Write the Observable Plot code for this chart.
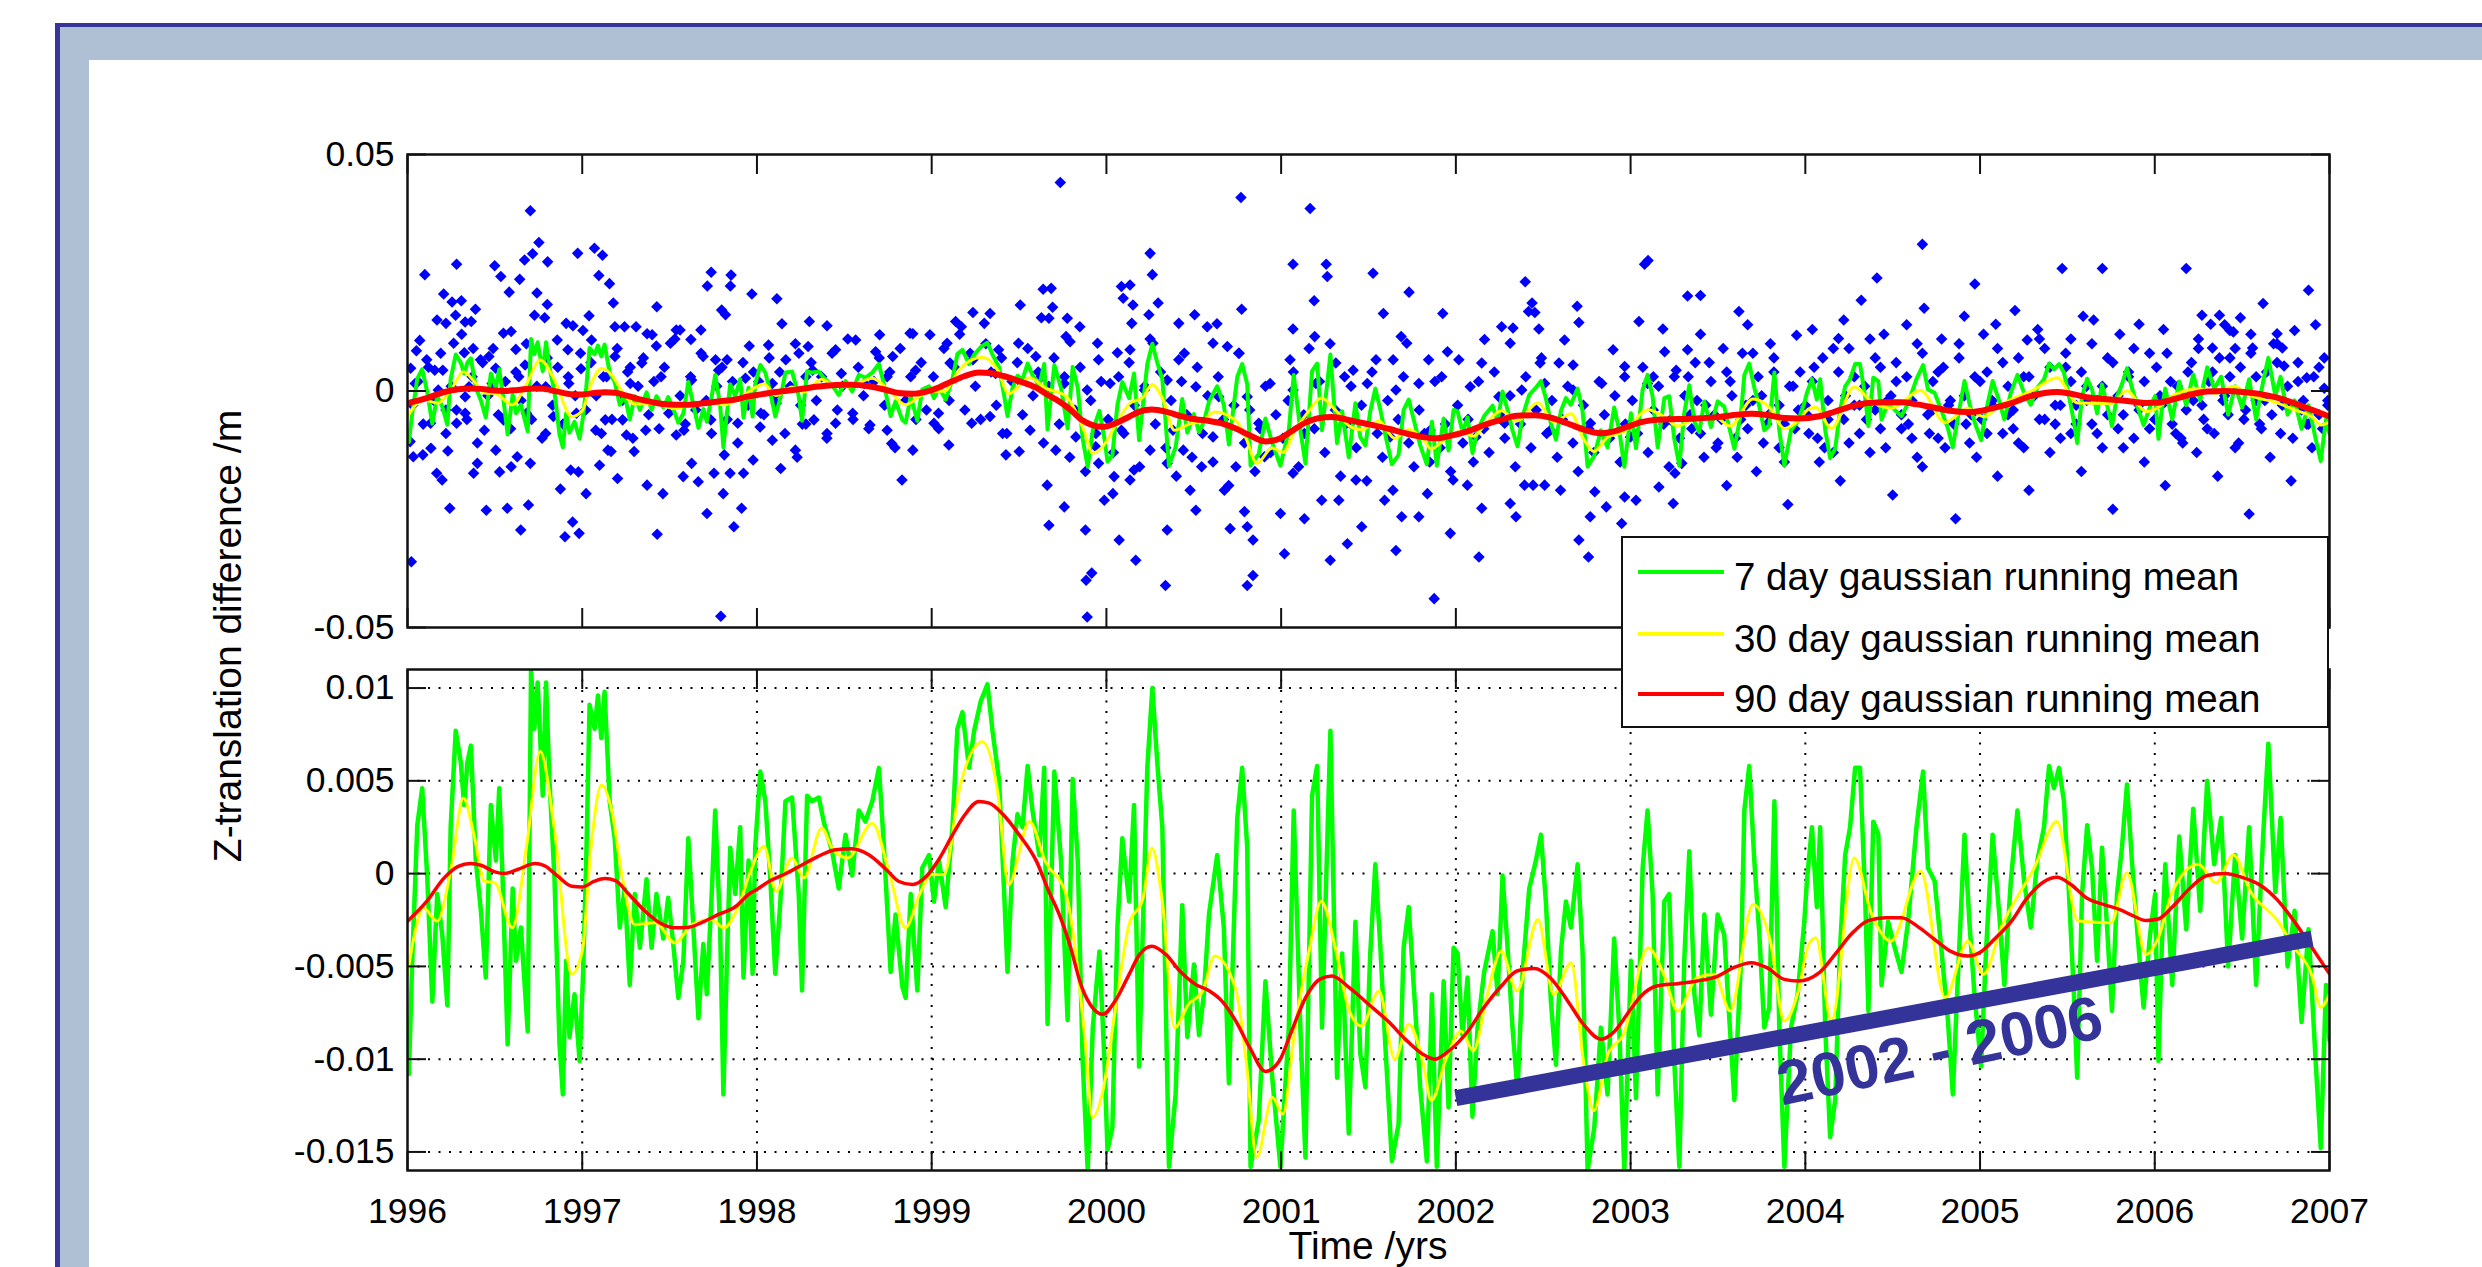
<!DOCTYPE html>
<html>
<head>
<meta charset="utf-8">
<script src="https://cdn.jsdelivr.net/npm/d3@7"></script>
<script src="https://cdn.jsdelivr.net/npm/@observablehq/plot@0.6"></script>
<style>
html,body{margin:0;padding:0;background:#fff;width:2482px;height:1267px;overflow:hidden;font-family:"Liberation Sans",Arial,Helvetica,sans-serif;}
#outer{position:absolute;left:55px;top:23px;width:2600px;height:1400px;background:#b0c0d4;border-left:5px solid #35359a;border-top:4px solid #35359a;}
#inner{position:absolute;left:89px;top:60px;width:2600px;height:1400px;background:#fff;}
.plotbox{position:absolute;left:0;}
#legend{position:absolute;left:1621px;top:536px;width:704px;height:188px;background:#fff;border:2px solid #111;}
.lrow{position:absolute;left:0;height:40px;}
.sw{position:absolute;left:15px;width:86px;height:4px;}
.lt{position:absolute;left:111px;font-size:38.5px;line-height:40px;white-space:nowrap;color:#000;}
#ylabel{position:absolute;left:228px;top:636px;transform:translate(-50%,-50%) rotate(-90deg);font-size:39px;white-space:nowrap;color:#000;}
#xlabel{position:absolute;left:1368px;top:1226px;transform:translateX(-50%);font-size:39px;line-height:39px;white-space:nowrap;color:#000;}
</style>
</head>
<body>
<div id="outer"></div>
<div id="inner"></div>
<div id="top" class="plotbox" style="top:0px"></div>
<div id="bottom" class="plotbox" style="top:640px"></div>
<div id="ylabel">Z-translation difference /m</div>
<div id="xlabel">Time /yrs</div>
<div id="legend"></div>
<script>
// ---------------- data (y in millimetres) ----------------
const years = [1996,1997,1998,1999,2000,2001,2002,2003,2004,2005,2006,2007];
const gridYears = [1997,1998,1999,2000,2001,2002,2003,2004,2005,2006];
const topYTicks = [-0.05, 0, 0.05];
const bottomYTicks = [-0.015, -0.01, -0.005, 0, 0.005, 0.01];
const seriesNames = ["7 day gaussian running mean","30 day gaussian running mean","90 day gaussian running mean"];
const seriesColors = ["#00ff00","#ffff00","#ff0000"];
const trendT = [2002.0, 2006.9];
const trendV = [-12.1, -3.5];
const trendLabel = "2002 - 2006";
const trendLabelAt = [2004.77, -9.6];

const red90 = [[1996.00,-2.56],[1996.11,-1.49],[1996.21,-0.23],[1996.29,0.39],[1996.36,0.54],[1996.42,0.45],[1996.50,0.09],[1996.55,0.0],[1996.63,0.22],[1996.73,0.54],[1996.78,0.45],[1996.86,-0.14],[1996.94,-0.68],[1997.00,-0.72],[1997.07,-0.41],[1997.13,-0.27],[1997.19,-0.38],[1997.26,-1.04],[1997.36,-2.03],[1997.45,-2.69],[1997.53,-2.92],[1997.61,-2.89],[1997.68,-2.65],[1997.78,-2.20],[1997.88,-1.76],[1997.95,-1.13],[1998.00,-0.85],[1998.07,-0.41],[1998.16,-0.02],[1998.26,0.48],[1998.35,0.93],[1998.45,1.29],[1998.54,1.34],[1998.64,1.02],[1998.74,0.22],[1998.81,-0.41],[1998.89,-0.59],[1998.97,-0.14],[1999.04,0.75],[1999.12,2.10],[1999.19,3.17],[1999.27,3.89],[1999.33,3.80],[1999.41,3.17],[1999.50,2.10],[1999.60,0.66],[1999.67,-0.95],[1999.73,-2.20],[1999.79,-3.82],[1999.86,-6.15],[1999.92,-7.22],[1999.98,-7.58],[2000.05,-6.86],[2000.13,-5.43],[2000.19,-4.35],[2000.26,-3.91],[2000.34,-4.35],[2000.42,-5.25],[2000.51,-5.97],[2000.59,-6.33],[2000.66,-6.86],[2000.74,-7.94],[2000.82,-9.37],[2000.91,-10.66],[2000.99,-10.09],[2001.06,-8.48],[2001.14,-6.68],[2001.22,-5.70],[2001.29,-5.52],[2001.39,-6.15],[2001.50,-7.04],[2001.62,-8.03],[2001.71,-8.92],[2001.81,-9.73],[2001.88,-10.0],[2001.96,-9.55],[2002.07,-8.48],[2002.16,-7.22],[2002.26,-6.06],[2002.35,-5.25],[2002.45,-5.11],[2002.54,-5.61],[2002.64,-6.86],[2002.73,-8.12],[2002.83,-8.92],[2002.91,-8.48],[2002.98,-7.58],[2003.06,-6.59],[2003.15,-6.06],[2003.27,-5.93],[2003.38,-5.79],[2003.50,-5.52],[2003.59,-5.07],[2003.69,-4.80],[2003.78,-5.07],[2003.88,-5.70],[2003.96,-5.79],[2004.08,-5.34],[2004.17,-4.35],[2004.27,-3.19],[2004.36,-2.53],[2004.46,-2.38],[2004.55,-2.38],[2004.64,-2.83],[2004.74,-3.55],[2004.83,-4.18],[2004.93,-4.44],[2005.01,-4.18],[2005.08,-3.55],[2005.18,-2.56],[2005.27,-1.31],[2005.37,-0.41],[2005.44,-0.20],[2005.52,-0.59],[2005.61,-1.31],[2005.71,-1.67],[2005.80,-1.94],[2005.88,-2.29],[2005.95,-2.53],[2006.02,-2.45],[2006.10,-1.8],[2006.20,-0.8],[2006.30,-0.1],[2006.40,0.0],[2006.50,-0.2],[2006.60,-0.6],[2006.70,-1.4],[2006.80,-2.6],[2006.90,-4.0],[2007.00,-5.4]];

const yellow30 = [[1996.00,-5.43],[1996.04,-3.28],[1996.09,-1.85],[1996.17,-2.56],[1996.25,0.30],[1996.32,4.07],[1996.38,2.10],[1996.44,-0.41],[1996.50,-0.50],[1996.60,-2.92],[1996.68,1.38],[1996.76,6.58],[1996.84,2.46],[1996.94,-5.43],[1997.00,-4.18],[1997.05,1.38],[1997.11,4.78],[1997.17,3.35],[1997.23,-0.23],[1997.30,-2.74],[1997.42,-2.65],[1997.53,-3.73],[1997.63,-2.74],[1997.74,-2.47],[1997.81,-2.92],[1997.89,-1.85],[1997.97,0.30],[1998.04,1.47],[1998.11,-0.95],[1998.20,0.84],[1998.27,-0.23],[1998.37,2.46],[1998.43,1.38],[1998.52,0.84],[1998.66,2.72],[1998.76,-0.05],[1998.85,-2.92],[1998.93,-1.13],[1999.00,-0.05],[1999.07,-0.05],[1999.16,4.61],[1999.29,7.11],[1999.38,4.25],[1999.44,-0.59],[1999.56,2.81],[1999.65,0.66],[1999.77,-1.13],[1999.83,-4.71],[1999.88,-9.19],[1999.92,-13.14],[1999.98,-11.70],[2000.05,-7.4],[2000.13,-2.74],[2000.21,-1.31],[2000.26,1.38],[2000.32,-1.49],[2000.39,-8.30],[2000.47,-7.04],[2000.55,-6.33],[2000.62,-4.44],[2000.74,-6.24],[2000.80,-10.09],[2000.86,-15.29],[2000.95,-12.06],[2001.01,-12.96],[2001.08,-8.30],[2001.16,-4.18],[2001.23,-1.49],[2001.31,-3.99],[2001.39,-7.40],[2001.46,-8.21],[2001.56,-6.33],[2001.65,-10.0],[2001.73,-8.12],[2001.81,-10.09],[2001.86,-12.24],[2001.94,-10.09],[2002.03,-8.48],[2002.10,-9.55],[2002.18,-6.51],[2002.26,-4.18],[2002.35,-6.33],[2002.47,-2.47],[2002.56,-6.51],[2002.66,-4.80],[2002.73,-10.09],[2002.79,-12.78],[2002.87,-9.73],[2002.96,-8.66],[2003.10,-3.99],[2003.19,-5.43],[2003.27,-7.40],[2003.38,-5.61],[2003.48,-5.43],[2003.57,-7.40],[2003.70,-1.67],[2003.80,-3.64],[2003.88,-7.94],[2003.96,-6.33],[2004.02,-3.8],[2004.06,-3.46],[2004.15,-7.94],[2004.28,0.84],[2004.38,-2.20],[2004.49,-3.64],[2004.66,0.13],[2004.80,-6.68],[2004.93,-3.64],[2005.02,-5.43],[2005.12,-2.92],[2005.31,0.30],[2005.44,2.81],[2005.56,-2.56],[2005.75,-2.65],[2005.84,0.04],[2005.95,-4.35],[2006.02,-3.46],[2006.10,-1.0],[2006.25,0.5],[2006.35,-0.5],[2006.45,1.0],[2006.55,-1.0],[2006.70,-2.5],[2006.80,-4.0],[2006.90,-5.5],[2006.95,-7.2],[2007.00,-6.5]];

const green7 = [[1996.008,-10.8],[1996.027,-4.7],[1996.056,2.6],[1996.084,4.6],[1996.113,-0.2],[1996.142,-6.9],[1996.170,-1.1],[1996.199,-3.3],[1996.228,-7.1],[1996.247,2.5],[1996.276,7.7],[1996.305,6.0],[1996.324,3.7],[1996.343,6.0],[1996.363,6.9],[1996.391,0.7],[1996.420,-2.0],[1996.448,-5.6],[1996.477,3.7],[1996.506,0.7],[1996.525,4.6],[1996.544,-0.2],[1996.573,-9.2],[1996.602,-0.8],[1996.621,-4.7],[1996.649,-2.9],[1996.688,-8.5],[1996.707,11.0],[1996.726,7.8],[1996.745,10.3],[1996.774,4.2],[1996.793,10.3],[1996.812,5.1],[1996.841,-0.2],[1996.870,-9.2],[1996.889,-11.9],[1996.908,-4.7],[1996.927,-8.8],[1996.956,-6.5],[1996.985,-10.1],[1997.004,-5.6],[1997.023,0.7],[1997.042,9.1],[1997.071,7.8],[1997.090,9.6],[1997.109,7.3],[1997.128,9.8],[1997.157,3.9],[1997.186,1.9],[1997.215,-2.9],[1997.243,-0.8],[1997.272,-6.0],[1997.301,-1.1],[1997.330,-4.0],[1997.368,-0.3],[1997.397,-4.0],[1997.425,-1.1],[1997.464,-3.5],[1997.492,-1.3],[1997.521,-3.8],[1997.550,-6.7],[1997.579,-4.7],[1997.607,1.9],[1997.636,-2.9],[1997.665,-7.8],[1997.693,-3.8],[1997.713,-6.5],[1997.741,-1.1],[1997.761,3.4],[1997.789,-2.9],[1997.808,-11.9],[1997.828,-4.7],[1997.847,1.4],[1997.876,-1.1],[1997.904,2.5],[1997.923,-5.6],[1997.952,0.7],[1997.975,-5.4],[1997.990,1.4],[1998.019,5.5],[1998.048,3.9],[1998.076,-0.2],[1998.105,-5.4],[1998.134,-1.5],[1998.163,3.9],[1998.201,4.1],[1998.239,-1.1],[1998.258,-6.3],[1998.287,4.2],[1998.315,3.9],[1998.354,4.1],[1998.382,2.8],[1998.430,1.2],[1998.468,-0.8],[1998.507,2.1],[1998.545,-0.1],[1998.583,3.4],[1998.621,2.8],[1998.660,3.9],[1998.698,5.7],[1998.727,1.4],[1998.765,-5.3],[1998.793,-2.2],[1998.832,-6.1],[1998.851,-6.7],[1998.880,-1.1],[1998.918,-6.3],[1998.946,0.3],[1998.985,1.0],[1999.013,-1.5],[1999.042,0.7],[1999.080,-1.8],[1999.119,2.5],[1999.147,7.8],[1999.176,8.7],[1999.214,5.7],[1999.243,7.7],[1999.281,9.3],[1999.319,10.2],[1999.348,7.7],[1999.386,5.0],[1999.415,-1.1],[1999.434,-5.3],[1999.463,0.7],[1999.491,3.2],[1999.520,2.5],[1999.549,5.8],[1999.577,3.4],[1999.616,1.0],[1999.644,5.7],[1999.663,-8.1],[1999.702,5.5],[1999.740,0.7],[1999.778,-7.9],[1999.807,5.1],[1999.836,0.7],[1999.864,-10.1],[1999.893,-16.0],[1999.922,-8.3],[1999.960,-4.2],[1999.989,-10.1],[2000.006,-14.9],[2000.034,-13.7],[2000.063,-2.9],[2000.091,1.9],[2000.130,-1.5],[2000.158,3.7],[2000.187,-10.4],[2000.234,5.7],[2000.263,10.0],[2000.291,6.0],[2000.320,2.5],[2000.358,-15.8],[2000.396,-11.9],[2000.434,-1.7],[2000.463,-8.8],[2000.501,-4.9],[2000.530,-8.7],[2000.558,-6.5],[2000.587,-2.2],[2000.634,1.0],[2000.672,-2.9],[2000.701,-11.3],[2000.749,3.0],[2000.777,5.7],[2000.806,1.4],[2000.825,-15.8],[2000.872,-13.3],[2000.910,-5.8],[2000.949,-11.0],[2000.996,-15.8],[2001.044,-8.3],[2001.072,3.4],[2001.110,-8.3],[2001.139,-15.3],[2001.177,4.2],[2001.206,5.8],[2001.234,-8.3],[2001.282,7.7],[2001.320,-11.0],[2001.349,-4.3],[2001.387,-14.0],[2001.425,-2.6],[2001.453,-9.7],[2001.482,-11.5],[2001.510,-4.3],[2001.539,0.5],[2001.568,-4.0],[2001.596,-9.2],[2001.634,-15.5],[2001.672,-13.5],[2001.701,-4.0],[2001.730,-1.8],[2001.768,-7.4],[2001.796,-11.5],[2001.834,-15.5],[2001.863,-6.5],[2001.891,-15.8],[2001.930,-5.8],[2001.958,-12.6],[2001.987,-4.0],[2002.010,-4.3],[2002.038,-8.7],[2002.067,-5.6],[2002.095,-13.1],[2002.124,-8.3],[2002.162,-5.3],[2002.210,-3.1],[2002.239,-6.5],[2002.267,-0.1],[2002.296,-4.0],[2002.324,-8.3],[2002.353,-11.7],[2002.382,-5.3],[2002.420,-0.8],[2002.458,0.7],[2002.487,2.1],[2002.515,-1.5],[2002.544,-6.9],[2002.573,-10.3],[2002.601,-4.2],[2002.630,-1.5],[2002.658,-2.9],[2002.697,0.5],[2002.725,-4.2],[2002.754,-16.0],[2002.792,-13.7],[2002.830,-8.3],[2002.868,-11.9],[2002.906,-3.5],[2002.935,-8.3],[2002.964,-16.0],[2003.002,-4.7],[2003.031,-12.1],[2003.069,0.3],[2003.097,3.4],[2003.126,-1.1],[2003.155,-11.9],[2003.193,-1.5],[2003.221,-1.1],[2003.250,-10.1],[2003.279,-15.8],[2003.307,-4.7],[2003.336,1.2],[2003.365,-6.5],[2003.393,-8.7],[2003.422,-2.2],[2003.460,-7.6],[2003.498,-2.2],[2003.536,-3.3],[2003.565,-7.8],[2003.594,-12.2],[2003.632,-4.7],[2003.651,3.4],[2003.679,5.8],[2003.708,0.7],[2003.737,-3.3],[2003.765,-8.3],[2003.794,-7.2],[2003.823,3.9],[2003.851,-8.3],[2003.880,-15.8],[2003.918,-8.3],[2003.956,-6.5],[2003.994,-2.6],[2004.009,-0.4],[2004.038,2.5],[2004.066,-1.8],[2004.085,2.5],[2004.114,-8.3],[2004.142,-14.2],[2004.171,-12.2],[2004.199,-4.0],[2004.228,1.0],[2004.256,2.5],[2004.285,5.7],[2004.313,5.7],[2004.342,-1.1],[2004.361,-7.4],[2004.389,2.8],[2004.418,2.1],[2004.436,-6.0],[2004.474,-2.6],[2004.512,-4.0],[2004.550,-5.3],[2004.588,-2.6],[2004.636,2.5],[2004.674,5.5],[2004.702,0.3],[2004.740,-0.4],[2004.778,-4.0],[2004.816,-7.9],[2004.844,-11.9],[2004.873,-5.6],[2004.911,2.1],[2004.939,-2.6],[2004.968,-6.5],[2005.006,-10.4],[2005.034,-4.2],[2005.072,2.1],[2005.110,-2.2],[2005.139,-6.0],[2005.176,-0.4],[2005.214,3.4],[2005.252,-0.4],[2005.290,-2.9],[2005.328,0.7],[2005.366,2.5],[2005.395,5.8],[2005.423,4.6],[2005.452,5.7],[2005.480,3.9],[2005.509,-1.1],[2005.537,-6.5],[2005.556,-11.0],[2005.584,-1.1],[2005.613,2.6],[2005.641,0.3],[2005.670,-4.7],[2005.698,1.4],[2005.727,-2.9],[2005.755,-7.4],[2005.784,-1.1],[2005.812,1.4],[2005.841,4.8],[2005.869,0.7],[2005.898,-2.9],[2005.936,-7.2],[2005.973,-3.3],[2006.002,-1.1],[2006.021,-10.1],[2006.04,-4.0],[2006.06,0.5],[2006.10,-6.0],[2006.14,2.0],[2006.18,-3.0],[2006.22,3.5],[2006.26,-2.0],[2006.30,5.0],[2006.34,0.5],[2006.38,3.0],[2006.42,-5.0],[2006.46,1.0],[2006.50,-3.5],[2006.54,2.5],[2006.58,-6.0],[2006.62,2.0],[2006.65,7.0],[2006.69,-1.0],[2006.72,3.0],[2006.76,-5.0],[2006.80,-2.0],[2006.84,-8.0],[2006.88,-3.0],[2006.92,-10.0],[2006.95,-14.8],[2006.98,-6.0],[2007.00,-9.0]];

// individual daily translation differences (outliers + spread)
const blueDots = [
[1996.099,24.6],[1996.281,26.8],[1996.499,26.5],[1996.703,38.1],[1996.752,31.4],[1996.716,29.0],[1996.670,27.7],[1996.802,27.3],[1996.974,29.1],[1997.070,30.2],[1997.116,28.7],[1997.095,24.4],[1997.156,22.7],[1996.534,24.2],[1996.642,23.6],[1996.582,20.9],[1996.207,20.5],[1996.255,18.8],[1996.308,19.1],[1996.389,17.3],[1996.169,15.0],[1996.220,14.3],[1996.275,16.0],[1996.330,14.6],[1996.365,14.7],[1996.741,20.7],[1996.800,18.3],[1996.727,16.0],[1996.785,15.5],[1996.908,14.3],[1996.947,13.8],[1997.004,12.8],[1997.039,15.9],[1997.178,18.6],[1997.187,13.6],[1997.242,13.6],[1997.308,13.6],[1997.427,17.8],[1997.371,12.1],[1997.400,11.9],[1997.538,12.9],[1997.560,12.9],[1997.679,12.9],[1997.738,25.1],[1997.716,22.2],[1997.852,24.5],[1997.848,22.2],[1997.798,17.1],[1997.820,16.1],[1997.971,20.5],[1998.114,19.5],[1998.143,14.2],
[1996.018,4.8],[1996.070,10.7],[1996.051,8.5],[1996.110,6.6],[1996.156,4.4],[1996.202,4.4],[1996.264,10.1],[1996.325,8.1],[1996.376,9.0],[1996.418,6.6],[1996.466,7.3],[1996.505,4.8],[1996.549,12.2],[1996.593,12.6],[1996.620,8.8],[1996.673,5.5],[1996.857,10.8],[1996.918,8.7],[1996.993,4.7],[1997.053,10.8],[1997.187,7.3],[1997.275,5.0],[1997.341,5.9],[1997.424,9.5],[1997.505,10.1],[1997.622,10.9],[1997.692,7.3],[1997.763,6.6],[1997.829,6.6],[1997.956,9.5],[1998.066,9.7],[1998.165,6.6],
[1996.015,-10.7],[1996.033,-13.9],[1996.088,-13.5],[1996.134,-12.1],[1996.167,-17.4],[1996.198,-18.8],[1996.242,-24.8],[1996.231,-12.7],[1996.281,-6.8],[1996.330,-4.7],[1996.378,-17.4],[1996.400,-15.3],[1996.451,-25.2],[1996.505,-12.5],[1996.527,-17.1],[1996.571,-24.8],[1996.593,-16.0],[1996.628,-13.9],[1996.648,-29.4],[1996.692,-24.1],[1996.703,-15.3],[1996.791,-9.0],[1996.875,-20.7],[1996.901,-30.8],[1996.945,-27.7],[1996.982,-30.1],[1996.934,-16.7],[1996.978,-17.1],[1997.022,-21.7],[1997.099,-15.7],[1997.132,-6.1],[1997.147,-12.5],[1997.165,-12.8],[1997.202,-18.5],[1997.253,-9.3],[1997.297,-12.8],[1997.371,-19.9],[1997.429,-30.3],[1997.462,-21.7],[1997.538,-9.3],[1997.578,-18.1],[1997.626,-15.3],[1997.664,-19.2],[1997.714,-25.9],[1997.754,-17.4],[1997.807,-21.7],[1997.813,-13.5],[1997.868,-28.7],[1997.912,-24.8],[1997.846,-17.4],[1997.923,-17.4],[1997.978,-14.6],[1998.018,-7.6],[1998.088,-10.4],[1998.136,-16.4],[1998.220,-12.5],[1996.022,-36.1],[1997.793,-47.6],
[1996.132,-6.8],[1996.220,-4.0],[1996.330,-1.2],[1996.440,-8.3],[1996.549,-6.1],[1996.681,-4.7],[1996.835,-5.4],[1996.967,-4.7],[1997.077,-8.3],[1997.231,-6.1],[1997.363,-8.3],[1997.495,-4.7],[1997.582,-8.3],[1997.736,-6.1],[1997.890,-6.8],[1998.022,-4.7],[1998.110,-2.6],
[1996.044,1.6],[1996.176,0.2],[1996.352,0.9],[1996.484,1.6],[1996.637,3.0],[1996.791,0.9],[1996.923,1.6],[1997.121,3.0],[1997.275,1.6],[1997.451,3.0],[1997.626,2.3],[1997.780,4.4],[1997.934,2.7],[1998.088,1.6],
[1998.24,8.0],[1998.26,-7.0],[1998.28,3.0],[1998.23,-14.0],
[1999.736,44.1],[2000.770,40.9],[2001.166,38.6],[2000.250,29.1],[2000.263,24.6],[2001.068,26.8],[2001.258,26.8],[2001.264,24.2],[2001.526,24.9],[2001.732,20.9],[2002.397,23.1],[2003.080,26.8],[2003.326,20.1],[1999.638,21.5],[1999.684,21.7],[2000.086,22.1],[2000.135,22.4],[2000.096,19.6],[2000.152,18.2],[2000.296,18.6],[2000.243,16.1],[2000.774,17.3],[2001.189,19.1],[1999.507,18.2],[1999.692,17.7],[1999.776,15.4],[1999.848,13.6],[1999.137,14.7],[1999.236,16.6],[1999.334,16.4],[1998.300,14.7],[1998.401,13.8],[1998.892,12.1],[1998.990,11.9],[1998.702,11.9],[2000.145,14.3],[2000.414,14.3],[2000.505,16.1],[2000.577,13.6],[2000.633,14.2],[2001.585,16.4],[2001.925,16.4],[2002.262,13.6],[2002.327,13.3],[2002.436,18.6],[2002.452,16.6],[2002.475,13.1],[2002.622,10.8],[2002.694,17.9],[2002.704,14.5],[2003.048,14.7],[2003.185,13.1],[2002.416,16.8],[2002.164,10.9],[2001.687,11.5],[2001.719,10.1],[2001.068,13.1],[2001.192,11.5],
[2000.692,9.4],[2000.610,10.1],[2000.446,8.0],[2000.414,6.6],[2000.135,8.7],[2000.063,8.1],[1999.949,10.1],[1999.792,10.4],[1999.769,11.5],[1999.671,15.4],[1999.628,15.5],[1999.955,6.6],[2000.266,10.1],[2000.757,8.0],[2001.051,6.6],[2001.313,5.9],[2001.412,4.4],[2001.543,6.6],[2001.641,6.6],[2001.844,6.6],[2001.952,8.3],[2002.017,6.6],[2002.148,5.9],[2002.311,10.1],[2002.482,5.9],[2002.590,5.9],[2002.671,5.5],[2002.900,8.7],[2002.966,5.2],[2003.130,3.0],[2003.195,8.3],[2003.326,8.7],[1998.293,9.4],[1998.450,8.7],[1998.565,10.8],[1998.679,8.3],[1998.777,7.3],[1998.876,12.2],[1999.088,10.1],[1999.170,13.6],[1999.301,14.3],[1999.383,8.7],[1999.497,10.1],[1999.596,7.3],
[1998.319,4.4],[1998.483,3.7],[1998.614,1.6],[1998.745,3.0],[1998.908,4.4],[1999.105,5.9],[1999.236,6.6],[1999.366,3.7],[1999.497,2.3],[1999.628,3.0],[1999.759,1.6],[1999.890,0.2],[2000.021,1.6],[2000.217,0.2],[2000.348,2.3],[2000.512,0.9],[2000.643,-1.2],[2000.806,-1.2],[2000.937,1.6],[2001.068,0.2],[2001.199,1.6],[2001.363,3.0],[2001.493,1.6],[2001.657,0.2],[2001.788,1.6],[2001.919,3.0],[2002.082,0.9],[2002.246,-1.2],[2002.377,0.2],[2002.508,1.6],[2002.671,0.2],[2002.835,1.6],[2002.966,3.0],[2003.097,1.6],[2003.261,4.4],
[1998.326,-6.1],[1998.401,-9.0],[1998.548,-4.7],[1998.647,-7.2],[1998.771,-11.1],[1998.830,-18.8],[1998.892,-12.5],[1999.013,-6.8],[1999.098,-11.4],[1999.229,-6.8],[1999.406,-9.0],[1999.425,-13.5],[1999.501,-12.8],[1999.661,-19.9],[1999.710,-12.5],[1999.759,-24.5],[1999.671,-28.4],[1999.880,-29.4],[1999.884,-40.0],[1999.916,-38.5],[1999.890,-47.8],[1999.988,-23.1],[2000.037,-21.7],[2000.073,-31.5],[2000.168,-35.8],[2000.158,-16.7],[2000.044,-18.1],[1999.955,-15.3],[1999.939,-11.8],[2000.135,-18.8],[2000.338,-41.1],[2000.348,-29.4],[2000.348,-15.3],[2000.250,-12.5],[2000.440,-12.5],[2000.479,-21.0],[2000.512,-25.2],[2000.545,-16.0],[2000.675,-21.0],[2000.708,-29.1],[2000.806,-28.7],[2000.790,-25.5],[2000.839,-31.5],[2000.839,-39.0],[2000.806,-41.1],[2000.741,-16.0],[2000.905,-13.9],[2000.996,-25.9],[2001.019,-34.4],[2001.068,-17.4],[2001.133,-27.0],[2001.232,-23.1],[2001.281,-35.8],[2001.330,-23.1],[2001.379,-32.3],[2001.428,-18.8],[2001.461,-28.7],[2001.592,-23.1],[2001.657,-33.7],[2001.690,-26.6],[2001.788,-26.6],[2001.837,-21.7],[2001.876,-43.9],[2001.984,-18.8],[2001.968,-30.1],[2002.066,-19.9],[2002.132,-35.1],[2002.148,-24.8],[2002.311,-23.8],[2002.344,-26.6],[2002.393,-19.9],[2002.442,-19.9],[2002.508,-19.9],[2002.599,-21.0],[2002.704,-31.5],[2002.759,-35.1],[2002.769,-26.6],[2002.795,-21.3],[2002.861,-24.5],[2002.949,-28.0],[2002.966,-22.4],[2003.031,-23.1],[2003.162,-20.3],[2003.244,-23.8],[2003.254,-17.4],[2003.293,-15.3],
[1998.450,-6.8],[1998.745,-8.3],[1999.039,-4.7],[1999.334,-5.4],[1999.563,-8.3],[1999.825,-9.7],[2000.086,-8.3],[2000.381,-8.3],[2000.610,-9.7],[2000.872,-6.8],[2001.133,-9.0],[2001.395,-6.8],[2001.624,-9.7],[2001.853,-8.3],[2002.115,-9.7],[2002.279,-6.8],[2002.541,-8.3],[2002.770,-6.8],[2002.999,-9.7],[2003.228,-6.1],
[2003.10,27.6],[2003.40,20.2],[2003.62,16.8],[2003.95,11.8],[2004.19,11.1],[2004.32,19.2],[2004.41,23.9],[2004.67,31.0],[2004.68,17.5],[2004.91,15.8],[2004.97,22.6],[2005.09,14.1],[2005.27,10.8],[2005.47,25.9],[2005.59,15.8],[2005.70,25.9],[2005.91,14.1],[2006.18,25.9],[2006.32,14.1],[2006.45,12.5],[2006.62,18.5],[2006.88,21.3],[2006.80,12.8],[2006.49,15.5],[2006.37,16.0],[2006.27,16.0],[2006.43,12.8],[2006.70,12.1],[2006.56,9.1],[2006.73,9.1],[2006.33,9.1],[2006.87,2.8],[2006.97,0.6],[2006.74,5.3],[2006.43,7.0],
[2003.35,-8],[2003.42,-14],[2003.48,-5],[2003.55,-20],[2003.60,-10],[2003.66,-3],[2003.72,-17],[2003.78,-7],[2003.85,-12],[2003.90,-24],[2003.96,-4],[2004.02,-9],[2004.08,-15],[2004.13,-6],[2004.20,-19],[2004.25,-11],[2004.31,-3],[2004.37,-13],[2004.43,-8],[2004.50,-22],[2004.55,-5],[2004.61,-10],[2004.67,-16],[2004.73,-4],[2004.80,-12],[2004.86,-27],[2004.92,-7],[2004.98,-14],[2005.04,-9],[2005.10,-18],[2005.16,-5],[2005.22,-11],[2005.28,-21],[2005.34,-6],[2005.40,-13],[2005.46,-3],[2005.52,-9],[2005.58,-17],[2005.64,-7],[2005.70,-12],[2005.76,-25],[2005.82,-5],[2005.88,-10],[2005.94,-15],[2006.00,-6],[2006.06,-20],[2006.12,-9],[2006.18,-4],[2006.24,-13],[2006.30,-8],[2006.36,-18],[2006.42,-5],[2006.48,-11],[2006.54,-26],[2006.60,-7],[2006.66,-14],[2006.72,-9],[2006.78,-19],[2006.84,-4],[2006.90,-12],[2006.96,-8],
[2003.38,-2],[2003.50,-11],[2003.63,-6],[2003.75,-1],[2003.88,-7],[2004.00,-3],[2004.11,-12],[2004.23,-1],[2004.35,-6],[2004.47,-2],[2004.59,-7],[2004.71,-9],[2004.83,-2],[2004.95,-5],[2005.07,-3],[2005.19,-8],[2005.31,-1],[2005.43,-7],[2005.55,-3],[2005.67,-2],[2005.79,-8],[2005.91,-3],[2006.03,-1],[2006.15,-10],[2006.27,-3],[2006.39,-2],[2006.51,-6],[2006.63,-2],[2006.75,-3],[2006.87,-7],[2006.99,-2],
[2003.33,3],[2003.45,6],[2003.57,2],[2003.70,8],[2003.82,4],[2003.93,1],[2004.05,5],[2004.16,9],[2004.28,3],[2004.40,7],[2004.52,2],[2004.64,10],[2004.76,4],[2004.88,7],[2005.00,2],[2005.13,6],[2005.25,3],[2005.37,9],[2005.49,5],[2005.61,1],[2005.73,7],[2005.85,4],[2005.97,8],[2006.09,2],[2006.21,6],[2006.33,4],[2006.46,9],[2006.58,3],[2006.70,6],[2006.82,2],[2006.94,5],
[2003.40,12],[2003.53,9],[2003.67,14],[2003.80,10],[2004.04,13],[2004.22,15],[2004.45,12],[2004.58,14],[2004.78,11],[2005.02,12],[2005.20,17],[2005.33,13],[2005.52,11],[2005.65,15],[2005.80,12],[2006.05,13],[2006.25,11],[2006.40,14],[2006.55,12],[2006.68,10],[2006.92,14]
];

// dense central band of the daily scatter (read per year from the reference)
const blueBand = [
[1996.03,-3],[1996.06,2],[1996.09,-7],[1996.12,5],[1996.15,-2],[1996.19,8],[1996.22,-9],[1996.25,1],[1996.28,-4],[1996.31,12],[1996.34,-6],[1996.37,3],[1996.40,-11],[1996.43,6],[1996.46,-1],[1996.49,9],[1996.52,-5],[1996.56,2],[1996.59,-8],[1996.62,4],[1996.65,-2],[1996.68,10],[1996.71,-6],[1996.74,1],[1996.77,-10],[1996.80,7],[1996.83,-3],[1996.86,5],[1996.89,-7],[1996.92,3],[1996.96,-1],[1996.99,8],
[1997.02,-4],[1997.05,6],[1997.08,-1],[1997.11,-9],[1997.14,3],[1997.17,-6],[1997.20,9],[1997.23,-2],[1997.26,4],[1997.29,-10],[1997.32,1],[1997.35,7],[1997.38,-5],[1997.41,2],[1997.44,-8],[1997.47,5],[1997.50,-3],[1997.53,11],[1997.56,-1],[1997.59,-7],[1997.62,3],[1997.65,-4],[1997.68,8],[1997.71,-2],[1997.74,-9],[1997.77,1],[1997.80,5],[1997.83,-6],[1997.86,2],[1997.89,-11],[1997.92,6],[1997.95,-3],[1997.98,4],
[1998.01,2],[1998.04,-5],[1998.07,7],[1998.10,-1],[1998.13,4],[1998.16,-9],[1998.19,1],[1998.22,10],[1998.25,-3],[1998.28,-7],[1998.31,6],[1998.34,-2],[1998.37,3],[1998.40,-10],[1998.43,8],[1998.46,-4],[1998.49,1],[1998.52,11],[1998.55,-6],[1998.58,5],[1998.61,-1],[1998.64,-8],[1998.67,2],[1998.70,7],[1998.73,-3],[1998.76,4],[1998.79,-12],[1998.82,9],[1998.85,-2],[1998.88,3],[1998.91,-6],[1998.94,6],[1998.97,-4],
[1999.01,3],[1999.04,-8],[1999.07,9],[1999.10,-2],[1999.13,5],[1999.16,12],[1999.19,-4],[1999.22,8],[1999.25,1],[1999.28,-6],[1999.31,10],[1999.34,4],[1999.37,-3],[1999.40,7],[1999.43,-9],[1999.46,2],[1999.49,6],[1999.52,-5],[1999.55,9],[1999.58,-1],[1999.61,4],[1999.64,-11],[1999.67,1],[1999.70,7],[1999.73,-7],[1999.76,3],[1999.79,-14],[1999.82,-4],[1999.85,5],[1999.88,-17],[1999.91,-2],[1999.94,-9],[1999.97,2],
[2000.01,-6],[2000.04,-13],[2000.07,3],[2000.10,-9],[2000.13,6],[2000.16,-3],[2000.19,-16],[2000.22,1],[2000.25,11],[2000.28,-7],[2000.31,4],[2000.34,-12],[2000.37,-2],[2000.40,-18],[2000.43,2],[2000.46,-5],[2000.49,-14],[2000.52,5],[2000.55,-9],[2000.58,-1],[2000.61,-15],[2000.64,3],[2000.67,-6],[2000.70,-20],[2000.73,-3],[2000.76,8],[2000.79,-11],[2000.82,-4],[2000.85,-17],[2000.88,-8],[2000.91,1],[2000.94,-13],[2000.97,-5],
[2001.01,-10],[2001.04,-2],[2001.07,4],[2001.10,-16],[2001.13,-5],[2001.16,9],[2001.19,-8],[2001.22,2],[2001.25,-13],[2001.28,10],[2001.31,-4],[2001.34,-18],[2001.37,-7],[2001.40,1],[2001.43,-12],[2001.46,-3],[2001.49,-19],[2001.52,4],[2001.55,-9],[2001.58,-14],[2001.61,-2],[2001.64,-21],[2001.67,-6],[2001.70,3],[2001.73,-11],[2001.76,-16],[2001.79,-4],[2001.82,-9],[2001.85,-15],[2001.88,2],[2001.91,-12],[2001.94,-7],[2001.97,-17],
[2002.01,-3],[2002.04,-11],[2002.07,-6],[2002.10,-15],[2002.13,2],[2002.16,-8],[2002.19,-13],[2002.22,4],[2002.25,-5],[2002.28,-10],[2002.31,-1],[2002.34,-16],[2002.37,-7],[2002.40,3],[2002.43,-12],[2002.46,-4],[2002.49,7],[2002.52,-9],[2002.55,-2],[2002.58,-14],[2002.61,-6],[2002.64,1],[2002.67,-11],[2002.70,-17],[2002.73,-3],[2002.76,-8],[2002.79,-13],[2002.82,2],[2002.85,-5],[2002.88,-10],[2002.91,-1],[2002.94,-15],[2002.97,-7],
[2003.01,-2],[2003.04,-9],[2003.07,5],[2003.10,-13],[2003.13,-4],[2003.16,1],[2003.19,-7],[2003.22,-16],[2003.25,3],[2003.28,-10],[2003.31,-1],[2003.34,-5],[2003.37,6],[2003.40,-9],[2003.43,-3],[2003.46,2],[2003.49,-12],[2003.52,-6],[2003.55,4],[2003.58,-1],[2003.61,-14],[2003.64,8],[2003.67,-8],[2003.70,-2],[2003.73,3],[2003.76,-11],[2003.79,-5],[2003.82,7],[2003.85,-3],[2003.88,-15],[2003.91,1],[2003.94,-8],[2003.97,4],
[2004.01,-5],[2004.04,2],[2004.07,-10],[2004.10,7],[2004.13,-2],[2004.16,-13],[2004.19,4],[2004.22,-6],[2004.25,9],[2004.28,-3],[2004.31,-9],[2004.34,1],[2004.37,11],[2004.40,-4],[2004.43,5],[2004.46,-12],[2004.49,-1],[2004.52,6],[2004.55,-8],[2004.58,3],[2004.61,-2],[2004.64,-14],[2004.67,8],[2004.70,-5],[2004.73,2],[2004.76,-10],[2004.79,5],[2004.82,-3],[2004.85,-7],[2004.88,10],[2004.91,-1],[2004.94,-11],[2004.97,3],
[2005.01,-6],[2005.04,4],[2005.07,-2],[2005.10,9],[2005.13,-9],[2005.16,1],[2005.19,-4],[2005.22,7],[2005.25,-12],[2005.28,3],[2005.31,-1],[2005.34,11],[2005.37,-6],[2005.40,5],[2005.43,-3],[2005.46,-10],[2005.49,8],[2005.52,2],[2005.55,-7],[2005.58,4],[2005.61,-2],[2005.64,10],[2005.67,-9],[2005.70,1],[2005.73,-5],[2005.76,6],[2005.79,-1],[2005.82,-12],[2005.85,3],[2005.88,9],[2005.91,-4],[2005.94,2],[2005.97,-8],
[2006.01,5],[2006.04,-3],[2006.07,8],[2006.10,-7],[2006.13,1],[2006.16,-11],[2006.19,4],[2006.22,-2],[2006.25,9],[2006.28,-6],[2006.31,2],[2006.34,-9],[2006.37,7],[2006.40,-1],[2006.43,3],[2006.46,-12],[2006.49,5],[2006.52,-4],[2006.55,8],[2006.58,-2],[2006.61,-8],[2006.64,4],[2006.67,-5],[2006.70,10],[2006.73,-3],[2006.76,1],[2006.79,-10],[2006.82,6],[2006.85,-2],[2006.88,-7],[2006.91,3],[2006.94,-5],[2006.97,7],[2006.99,-3]
];

// ---------------- build tables ----------------
const rows = pairs => pairs.map(([t, v]) => ({t, v: v / 1000}));
const dots = rows(blueDots.concat(blueBand));
const s7 = rows(green7), s30 = rows(yellow30), s90 = rows(red90);
const trend = trendT.map((t, i) => ({t, v: trendV[i] / 1000}));
const fmt = d => String(d);
const FONT = "'Liberation Sans', Arial, Helvetica, sans-serif";
const W = 2482, ML = 407, MR = 153;

function frameAxes(yTicks, withXLabels) {
  const tick = {fill: "none", stroke: "#111", strokeWidth: 2, label: null};
  const m = [
    Plot.axisX(years, {...tick, anchor: "bottom", tickSize: 19, dy: -19}),
    Plot.axisX(years, {...tick, anchor: "top", tickSize: 19, dy: 19}),
    Plot.axisY(yTicks, {...tick, anchor: "left", tickSize: 19, dx: 19}),
    Plot.axisY(yTicks, {...tick, anchor: "right", tickSize: 19, dx: -19}),
    Plot.axisY(yTicks, {anchor: "left", tickSize: 0, tickPadding: 13, tickFormat: fmt, fontSize: 35.5, fill: "#000", label: null})
  ];
  if (withXLabels) m.push(Plot.axisX(years, {anchor: "bottom", tickSize: 0, tickPadding: 27, tickFormat: fmt, fontSize: 35.5, fill: "#000", label: null}));
  m.push(Plot.frame({stroke: "#111", strokeWidth: 2.5}));
  return m;
}

const topPlot = Plot.plot({
  width: W, height: 640,
  marginLeft: ML, marginRight: MR, marginTop: 154, marginBottom: 13,
  style: {background: "transparent", fontFamily: FONT, overflow: "visible"},
  x: {domain: [1996, 2007], label: null},
  y: {domain: [-0.05, 0.05], label: null},
  marks: [
    Plot.dot(dots, {x: "t", y: "v", symbol: "diamond2", r: 5.2, fill: "#0000ff", stroke: "none", clip: true}),
    Plot.line(s7, {x: "t", y: "v", stroke: seriesColors[0], strokeWidth: 4, clip: true}),
    Plot.line(s30, {x: "t", y: "v", stroke: seriesColors[1], strokeWidth: 3, curve: "monotone-x", clip: true}),
    Plot.line(s90, {x: "t", y: "v", stroke: seriesColors[2], strokeWidth: 6, curve: "monotone-x", clip: true}),
    ...frameAxes(topYTicks, false)
  ]
});
document.getElementById("top").appendChild(topPlot);

const grid = {stroke: "#000", strokeOpacity: 1, strokeWidth: 2, strokeDasharray: "2 8.5"};
const bottomPlot = Plot.plot({
  width: W, height: 627,
  marginLeft: ML, marginRight: MR, marginTop: 29, marginBottom: 97,
  style: {background: "transparent", fontFamily: FONT, overflow: "visible"},
  x: {domain: [1996, 2007], label: null},
  y: {domain: [-0.016, 0.011], label: null},
  marks: [
    Plot.gridX({...grid, ticks: gridYears}),
    Plot.gridY({...grid, ticks: bottomYTicks}),
    Plot.line(s7, {x: "t", y: "v", stroke: seriesColors[0], strokeWidth: 4.5, clip: true}),
    Plot.line(s30, {x: "t", y: "v", stroke: seriesColors[1], strokeWidth: 3, curve: "monotone-x", clip: true}),
    Plot.line(s90, {x: "t", y: "v", stroke: seriesColors[2], strokeWidth: 3.5, curve: "monotone-x", clip: true}),
    Plot.line(trend, {x: "t", y: "v", stroke: "#333399", strokeWidth: 16, strokeLinecap: "butt"}),
    Plot.text([trendLabelAt], {x: d => d[0], y: d => d[1] / 1000, text: () => trendLabel, rotate: -12,
      fontSize: 62, fontWeight: "bold", fill: "#333399", textAnchor: "middle", lineAnchor: "middle", fontFamily: FONT}),
    ...frameAxes(bottomYTicks, true)
  ]
});
document.getElementById("bottom").appendChild(bottomPlot);

// legend
const legend = document.getElementById("legend");
const rowTops = [14, 76, 136];
seriesNames.forEach((name, i) => {
  const r = document.createElement("div");
  r.className = "lrow";
  r.style.top = rowTops[i] + "px";
  r.style.width = "700px";
  const sw = document.createElement("div");
  sw.className = "sw";
  sw.style.top = "18px";
  sw.style.background = seriesColors[i];
  const tx = document.createElement("div");
  tx.className = "lt";
  tx.style.top = "5px";
  tx.textContent = name;
  r.appendChild(sw); r.appendChild(tx);
  legend.appendChild(r);
});
</script>
</body>
</html>
